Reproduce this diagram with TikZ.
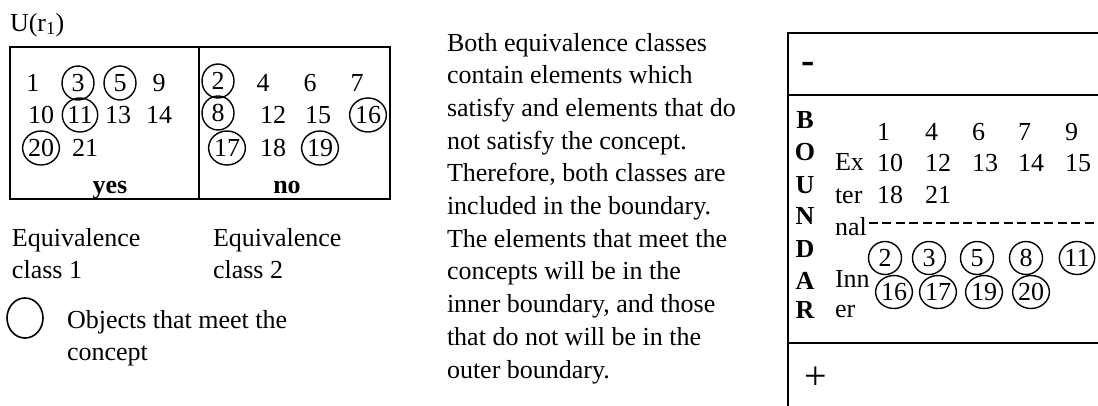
\documentclass[tikz,border=0pt]{standalone}
\usepackage{fontspec}
\setmainfont{Liberation Serif}
\usetikzlibrary{shapes.geometric}
\begin{document}
\begin{tikzpicture}[x=1pt,y=-1pt,
  every node/.style={inner sep=0pt, outer sep=0pt, font=\fontsize{26}{31}\selectfont},
  bf/.style={font=\fontsize{26}{31}\selectfont\bfseries},
  circ/.style={draw, ellipse, line width=1.4pt, minimum width=32pt, minimum height=34pt},
  frame/.style={draw, line width=1.8pt},
  lbl/.style={anchor=base west},
  ext/.style={anchor=west},
  ]
\useasboundingbox (0,0) rectangle (1098,405);
\fill[white] (0,0) rectangle (1098,405);
\clip (0,0) rectangle (1098,405);

% ---------- left part ----------
\node[lbl] (u) at (10,31) {U(r\textsubscript{1})};
\draw[frame] (10,47) rectangle (390,199);
\draw[frame] (199,47) -- (199,199);

% class 1
\node (a1) at (33,83) {1};
\node[circ] (a3) at (78,83) {3};
\node[circ] (a5) at (120,83) {5};
\node (a9) at (159,83) {9};
\node (a10) at (41,115) {10};
\node[circ] (a11) at (80,115) {11};
\node (a13) at (118,115) {13};
\node (a14) at (159,115) {14};
\node[circ] (a20) at (41,148) {20};
\node (a21) at (85,148) {21};
\node[bf, anchor=base] (yes) at (110,193) {yes};

% class 2
\node[circ] (b2) at (218,81) {2};
\node (b4) at (263,83) {4};
\node (b6) at (310,83) {6};
\node (b7) at (357,83) {7};
\node[circ] (b8) at (218,113) {8};
\node (b12) at (273,115) {12};
\node (b15) at (318,115) {15};
\node[circ] (b16) at (368,115) {16};
\node[circ] (b17) at (227,148) {17};
\node (b18) at (273,148) {18};
\node[circ] (b19) at (320,148) {19};
\node[bf, anchor=base] (no) at (287,193) {no};

\node[lbl] (eq1a) at (12,246) {Equivalence};
\node[lbl] (eq1b) at (12,278) {class 1};
\node[lbl] (eq2a) at (213,246) {Equivalence};
\node[lbl] (eq2b) at (213,278) {class 2};

\node[draw, ellipse, line width=1.6pt, minimum width=36pt, minimum height=40pt] (leg) at (25,318) {};
\node[lbl] (obj1) at (67,328) {Objects that meet the};
\node[lbl] (obj2) at (67,360) {concept};

% ---------- middle text ----------
\foreach \t [count=\i] in {
  {Both equivalence classes},
  {contain elements which},
  {satisfy and elements that do},
  {not satisfy the concept.},
  {Therefore, both classes are},
  {included in the boundary.},
  {The elements that meet the},
  {concepts will be in the},
  {inner boundary, and those},
  {that do not will be in the},
  {outer boundary.}}
  \node[lbl] (m\i) at (447,{51+32.7*(\i-1)}) {\t};

% ---------- right box ----------
\draw[frame] (1110,33) -- (788,33) -- (788,420);
\draw[frame] (788,95) -- (1110,95);
\draw[frame] (788,343) -- (1110,343);

\node[font=\fontsize{40}{40}\selectfont\bfseries, anchor=base] (minus) at (808,73) {-};
\node[font=\fontsize{40}{40}\selectfont] (plus) at (816,378) {+};

\foreach \l/\yy [count=\i] in {B/120,O/152,U/185,N/216,D/249,A/281,R/310}
  \node[bf] (bd\i) at (805,\yy) {\l};

\node[lbl] (ex) at (835,170) {Ex};
\node[lbl] (ter) at (835,203) {ter};
\node[lbl] (nal) at (835,235) {nal};
\node[lbl] (inn) at (835,287) {Inn};
\node[lbl] (er) at (835,317) {er};

\draw[line width=1.3pt, dash pattern=on 9pt off 4.5pt] (nal.east |- 0,223) ++(2,0) -- (1110,223);

% external
\node[ext] (e1) at (877,132) {1};
\node[ext] (e4) at (925,132) {4};
\node[ext] (e6) at (972,132) {6};
\node[ext] (e7) at (1018,132) {7};
\node[ext] (e9) at (1065,132) {9};
\node[ext] (e10) at (877,163) {10};
\node[ext] (e12) at (925,163) {12};
\node[ext] (e13) at (972,163) {13};
\node[ext] (e14) at (1018,163) {14};
\node[ext] (e15) at (1065,163) {15};
\node[ext] (e18) at (877,195) {18};
\node[ext] (e21) at (925,195) {21};

% inner
\node[circ, minimum width=33pt, minimum height=33pt] (i2) at (885,258) {2};
\node[circ, minimum width=33pt, minimum height=33pt] (i3) at (929,258) {3};
\node[circ, minimum width=33pt, minimum height=33pt] (i5) at (977,258) {5};
\node[circ, minimum width=33pt, minimum height=33pt] (i8) at (1026,258) {8};
\node[circ, minimum width=33pt, minimum height=33pt] (i11) at (1077,258) {11};
\node[circ, minimum width=33pt, minimum height=33pt] (i16) at (894,292) {16};
\node[circ, minimum width=33pt, minimum height=33pt] (i17) at (938,292) {17};
\node[circ, minimum width=33pt, minimum height=33pt] (i19) at (984,292) {19};
\node[circ, minimum width=33pt, minimum height=33pt] (i20) at (1031,292) {20};
\end{tikzpicture}
\end{document}
